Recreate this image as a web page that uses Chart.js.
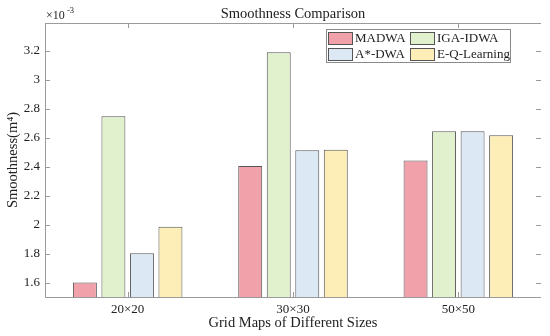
<!DOCTYPE html>
<html>
<head>
<meta charset="utf-8">
<script src="https://cdn.jsdelivr.net/npm/chart.js@4"></script>
<style>
  html, body { margin: 0; padding: 0; background: #fff; }
  #wrap { width: 550px; height: 336px; }
</style>
</head>
<body>
<div id="wrap"><canvas id="myChart" width="550" height="336"></canvas></div>
<script>
// values are in units of 1e-3
const categories = ['20\u00d720', '30\u00d730', '50\u00d750'];
const seriesNames = ['MADWA', 'IGA-IDWA', 'A*-DWA', 'E-Q-Learning'];
const madwa = [1.60, 2.403, 2.442];
const igaIdwa = [2.746, 3.188, 2.643];
const aStarDwa = [1.802, 2.513, 2.643];
const eqLearning = [1.985, 2.516, 2.616];
const yTicks = [1.6, 1.8, 2, 2.2, 2.4, 2.6, 2.8, 3, 3.2];
const fills = ['#f0a1aa', '#e2f1cd', '#dce9f5', '#fdeeb7'];
const edge = '#555555';
const axisCol = '#9a9a9a';
const serif = '"Liberation Serif", "DejaVu Serif", serif';

const seriesData = [madwa, igaIdwa, aStarDwa, eqLearning];

// inner ticks, box, title, x10^-3 and the 2x2 legend
const decor = {
    id: 'decor',
    afterDraw(chart) {
        const ctx = chart.ctx;
        const a = chart.chartArea;
        const xs = chart.scales.x, ys = chart.scales.y;
        ctx.save();
        ctx.strokeStyle = axisCol;
        ctx.lineWidth = 1;
        ctx.beginPath();
        ctx.moveTo(a.left + 0.5, a.top + 0.5);
        ctx.lineTo(a.left + 0.5, a.bottom + 0.5);
        ctx.lineTo(a.right, a.bottom + 0.5);
        ctx.moveTo(a.left, a.top + 0.5);
        ctx.lineTo(a.right, a.top + 0.5);
        for (let i = 0; i < categories.length; i++) {
            const x = Math.round(xs.getPixelForValue(i)) + 0.5;
            ctx.moveTo(x, a.bottom); ctx.lineTo(x, a.bottom - 5);
            ctx.moveTo(x, a.top); ctx.lineTo(x, a.top + 5);
        }
        yTicks.forEach(v => {
            const y = Math.round(ys.getPixelForValue(v)) + 0.5;
            ctx.moveTo(a.left, y); ctx.lineTo(a.left + 5, y);
            ctx.moveTo(a.right, y); ctx.lineTo(a.right - 5, y);
        });
        ctx.stroke();

        ctx.fillStyle = '#222';
        ctx.textBaseline = 'alphabetic';
        ctx.textAlign = 'center';
        ctx.font = '14.5px ' + serif;
        ctx.fillText('Smoothness Comparison', (a.left + a.right) / 2, 18);

        ctx.textAlign = 'left';
        ctx.font = '12px ' + serif;
        ctx.fillText('\u00d710', a.left + 1, 19);
        ctx.font = '8.5px ' + serif;
        ctx.fillText('-3', a.left + 22, 13);

        // legend box
        const lx = 326, ly = 29, lw = 184, lh = 33;
        ctx.fillStyle = '#fff';
        ctx.fillRect(lx, ly, lw, lh);
        ctx.strokeStyle = '#8a8a8a';
        ctx.strokeRect(lx + 0.5, ly + 0.5, lw, lh);
        const cols = [328, 410];
        const rows = [38, 54];
        ctx.font = '13px ' + serif;
        ctx.textBaseline = 'middle';
        seriesNames.forEach((name, i) => {
            const x = cols[i % 2], y = rows[Math.floor(i / 2)];
            ctx.fillStyle = fills[i];
            ctx.fillRect(x, y - 6, 24, 12);
            ctx.strokeStyle = edge;
            ctx.strokeRect(x + 0.5, y - 5.5, 24, 12);
            ctx.fillStyle = '#222';
            ctx.fillText(name, x + 27, y + 1, 73);
        });
        ctx.restore();
    }
};

const ctx = document.getElementById('myChart').getContext('2d');
const data = {
    labels: categories,
    datasets: seriesData.map((vals, i) => ({
        label: seriesNames[i],
        data: vals,
        backgroundColor: fills[i],
        borderColor: edge,
        borderWidth: 1,
        borderSkipped: 'bottom',
        categoryPercentage: 0.69,
        barPercentage: 0.84
    }))
};
const config = {
    type: 'bar',
    data: data,
    options: {
        responsive: false,
        animation: false,
        layout: { padding: { left: 0, right: 9, top: 23, bottom: 0 } },
        plugins: { legend: { display: false }, tooltip: { enabled: false } },
        scales: {
            x: {
                grid: { display: false, drawTicks: false },
                border: { display: false },
                ticks: { color: '#222', font: { family: serif, size: 13 }, padding: 5 },
                title: { display: true, text: 'Grid Maps of Different Sizes', color: '#222',
                         font: { family: serif, size: 14.5 }, padding: { top: 1 } },
                afterFit: s => { s.height = 39; }
            },
            y: {
                min: 1.5,
                max: 3.39,
                grid: { display: false, drawTicks: false },
                border: { display: false },
                afterBuildTicks: s => { s.ticks = yTicks.map(v => ({ value: v })); },
                ticks: { color: '#222', font: { family: serif, size: 13 }, padding: 5,
                         callback: v => String(Math.round(v * 10) / 10) },
                title: { display: true, text: 'Smoothness(m\u2074)', color: '#222',
                         font: { family: serif, size: 14.5 }, padding: { bottom: 0 } },
                afterFit: s => { s.width = 45; }
            }
        }
    },
    plugins: [decor]
};
let myChart = new Chart(ctx, config);
</script>
</body>
</html>
